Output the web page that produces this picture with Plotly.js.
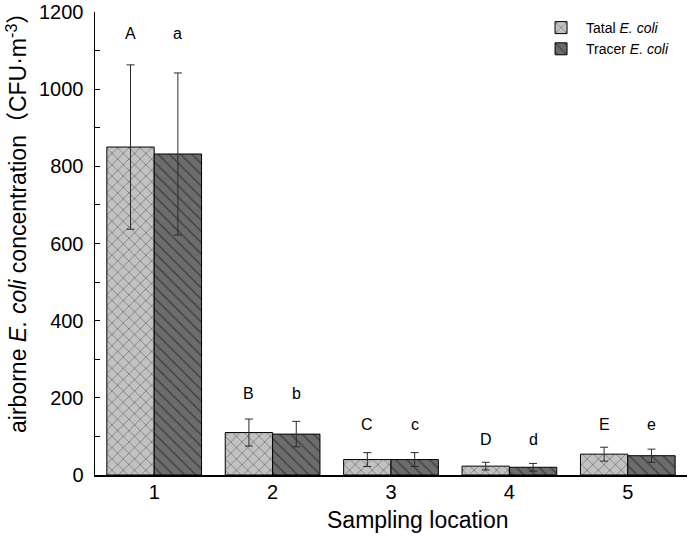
<!DOCTYPE html>
<html>
<head>
<meta charset="utf-8">
<script src="https://cdn.plot.ly/plotly-3.0.1.min.js"></script>
<style>html,body{margin:0;padding:0;background:#fff;}#chart{width:688px;height:539px;}</style>
</head>
<body>
<div id="chart"></div>
<script>
var locations = ['1', '2', '3', '4', '5'];
var totalValues = [850, 110, 40, 23, 54];
var totalErrors = [213, 35, 18, 10, 18];
var tracerValues = [832, 106, 40, 20, 50];
var tracerErrors = [210, 33, 18, 10, 17];
var totalLetters = ['A', 'B', 'C', 'D', 'E'];
var tracerLetters = ['a', 'b', 'c', 'd', 'e'];
var letterHeights = [1143, 212, 130, 91, 130];
var xTitle = 'Sampling location';
var yTitle = 'airborne <i>E. coli</i> concentration（CFU·m<sup>-3</sup>）';

var FONT = 'Arial, "Liberation Sans", "Noto Sans CJK SC", sans-serif';

var traceTotal = {
  type: 'bar', name: 'Tatal <i>E. coli</i>',
  x: locations, y: totalValues,
  marker: {
    color: '#c2c2c2',
    line: {color: '#000', width: 1},
    pattern: {shape: 'x', bgcolor: '#c2c2c2', fgcolor: '#1e1e1e', size: 8, solidity: 0.17, fillmode: 'overlay'}
  },
  error_y: {type: 'data', array: totalErrors, visible: true, color: '#2a2a2a', thickness: 1, width: 4}
};
var traceTracer = {
  type: 'bar', name: 'Tracer <i>E. coli</i>',
  x: locations, y: tracerValues,
  marker: {
    color: '#6c6c6c',
    line: {color: '#000', width: 1},
    pattern: {shape: '\\', bgcolor: '#6c6c6c', fgcolor: '#101010', size: 8, solidity: 0.17, fillmode: 'overlay'}
  },
  error_y: {type: 'data', array: tracerErrors, visible: true, color: '#2a2a2a', thickness: 1, width: 4}
};

var annotations = [];
for (var i = 0; i < locations.length; i++) {
  annotations.push({x: i, y: letterHeights[i], xref: 'x', yref: 'y', text: totalLetters[i], showarrow: false, xshift: -23.7, yanchor: 'middle', font: {size: 16, color: '#000', family: FONT}});
  annotations.push({x: i, y: letterHeights[i], xref: 'x', yref: 'y', text: tracerLetters[i], showarrow: false, xshift: 23.7, yanchor: 'middle', font: {size: 16, color: '#000', family: FONT}});
}
// axis titles (placed as in the reference, slightly off-centre)
annotations.push({xref: 'paper', yref: 'paper', x: 0.5456, y: -0.097, xanchor: 'center', yanchor: 'middle', text: xTitle, showarrow: false, font: {size: 23, color: '#000', family: FONT}});
annotations.push({xref: 'paper', yref: 'paper', x: -0.132, y: 0.557, xanchor: 'center', yanchor: 'middle', textangle: -90, text: yTitle, showarrow: false, font: {size: 23, color: '#000', family: FONT}});

var layout = {
  width: 688, height: 539,
  margin: {l: 95, r: 1, t: 12, b: 64, pad: 0},
  paper_bgcolor: '#fff', plot_bgcolor: '#fff',
  font: {family: FONT, color: '#000'},
  barmode: 'group', bargap: 0.2, bargroupgap: 0,
  showlegend: true,
  legend: {x: 0.745, y: 1.0, xanchor: 'left', yanchor: 'top', bgcolor: 'rgba(0,0,0,0)', font: {size: 14, family: FONT}, tracegroupgap: 0, itemwidth: 40},
  xaxis: {
    type: 'category', range: [-0.5, 4.5],
    showline: true, linecolor: '#000', linewidth: 1.5,
    ticks: '', showgrid: false, zeroline: false,
    tickfont: {size: 20, family: FONT},
    ticklabelstandoff: -2
  },
  yaxis: {
    range: [0, 1200], dtick: 200,
    showline: true, linecolor: '#000', linewidth: 1.5,
    ticks: 'inside', ticklen: 5, tickcolor: '#000', tickwidth: 1,
    minor: {dtick: 100, ticks: 'inside', ticklen: 5, tickcolor: '#000', tickwidth: 1, showgrid: false},
    showgrid: false, zeroline: false,
    tickfont: {size: 20, family: FONT},
    ticklabelstandoff: 6
  },
  annotations: annotations
};

Plotly.newPlot('chart', [traceTotal, traceTracer], layout, {displayModeBar: false, staticPlot: true});
</script>
</body>
</html>
